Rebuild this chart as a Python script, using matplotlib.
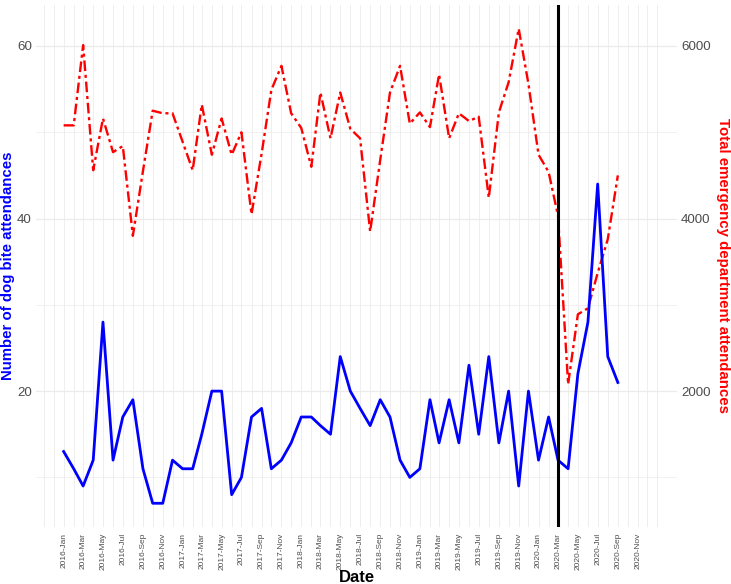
import numpy as np
import pandas as pd
import matplotlib
matplotlib.use("Agg")
import matplotlib.pyplot as plt
import matplotlib.dates as mdates

plt.rcParams['font.family'] = ['Liberation Sans', 'DejaVu Sans']

# monthly data, Jan 2016 - Sep 2020
dog_bites = [13, 11, 9, 12, 28, 12, 17, 19, 11, 7, 7, 12, 11, 11, 15, 20, 20, 8, 10, 17,
             18, 11, 12, 14, 17, 17, 16, 15, 24, 20, 18, 16, 19, 17, 12, 10, 11, 19, 14, 19,
             14, 23, 15, 24, 14, 20, 9, 20, 12, 17, 12, 11, 22, 28, 44, 24, 21]
ed_total = [5080, 5080, 6010, 4560, 5160, 4770, 4840, 3800, 4550, 5250, 5220, 5220, 4890, 4560,
            5320, 4740, 5160, 4740, 5000, 4050, 4750, 5490, 5770, 5220, 5050, 4600, 5460, 4930,
            5460, 5040, 4930, 3850, 4680, 5460, 5770, 5100, 5230, 5060, 5670, 4930, 5220, 5130,
            5180, 4240, 5230, 5580, 6200, 5560, 4740, 4540, 4030, 2080, 2890, 2960, 3370, 3760,
            4500]
dates = pd.date_range("2016-01-01", periods=len(dog_bites), freq="MS")
lockdown = pd.Timestamp("2020-03-01")
tick_dates = pd.date_range("2016-01-01", "2020-11-01", freq="2MS")

fig = plt.figure(figsize=(7.31, 5.84), dpi=100)
ax = fig.add_axes([36 / 731, 1 - 527 / 584, (677 - 36) / 731, (527 - 5) / 584])

x0 = pd.Timestamp("2016-01-01") - pd.Timedelta(days=85)
x1 = pd.Timestamp("2021-03-02")
ax.set_xlim(x0, x1)
ax.set_ylim(4.25, 64.75)

# grid
grid_c = "#EBEBEB"
for d in pd.date_range("2015-11-01", "2021-01-01", freq="MS"):
    ax.axvline(d, color=grid_c, lw=0.6, zorder=0)
for v in [10, 30, 50]:
    ax.axhline(v, color=grid_c, lw=0.5, zorder=0)
for v in [20, 40, 60]:
    ax.axhline(v, color=grid_c, lw=0.9, zorder=0)

ax.plot(dates, np.array(ed_total) / 100, color="red", lw=1.7, dashes=(4.5, 1.6, 1.3, 1.6), zorder=3)
ax.plot(dates, dog_bites, color="blue", lw=2.0, zorder=4)
ax.axvline(lockdown, color="black", lw=2.2, zorder=5)

ax.set_xticks(tick_dates)
ax.xaxis.set_major_formatter(mdates.DateFormatter("%Y-%b"))
ax.tick_params(axis="x", length=0, labelsize=6, labelcolor="#4D4D4D", rotation=90, pad=4)
ax.set_yticks([20, 40, 60])
ax.tick_params(axis="y", length=0, labelsize=9.6, labelcolor="#4D4D4D", pad=3)

for s in ax.spines.values():
    s.set_visible(False)

sec = ax.secondary_yaxis("right", functions=(lambda v: v * 100, lambda v: v / 100))
sec.set_yticks([2000, 4000, 6000])
sec.tick_params(length=0, labelsize=9.6, labelcolor="#4D4D4D", pad=3)
for s in sec.spines.values():
    s.set_visible(False)

ax.set_xlabel("Date", fontsize=12, fontweight="bold", va="center")
ax.xaxis.set_label_coords((357 - 36) / 641, (527 - 578) / 522)
ax.set_ylabel("Number of dog bite attendances", fontsize=10.8, fontweight="bold", color="blue",
              va="center")
ax.yaxis.set_label_coords((8 - 36) / 641, 0.5)
sec.set_ylabel("Total emergency department attendances", fontsize=10.8, fontweight="bold",
               color="red", rotation=270, va="center")
sec.yaxis.set_label_coords((723 - 36) / 641, 0.5, transform=ax.transAxes)

fig.savefig("out.png", dpi=100, facecolor="white")
